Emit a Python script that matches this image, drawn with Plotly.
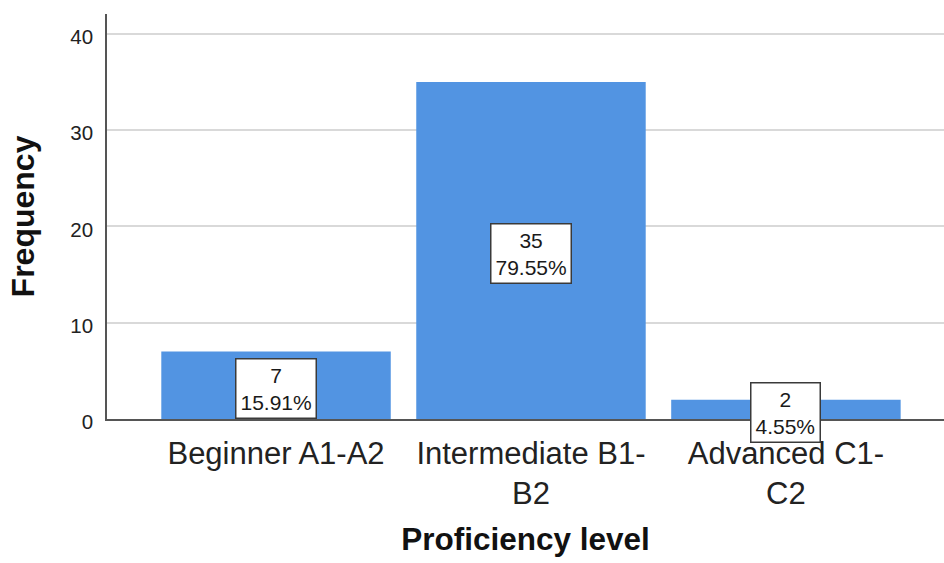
import plotly.graph_objects as go

categories = ["Beginner A1-A2", "Intermediate B1-<br>B2", "Advanced C1-<br>C2"]
frequencies = [7, 35, 2]
percent_labels = ["15.91%", "79.55%", "4.55%"]
y_ticks = [0, 10, 20, 30, 40]

BAR_COLOR = "#5294E2"
FONT = "Liberation Sans, Arial, sans-serif"

fig = go.Figure()
fig.add_trace(go.Bar(
    x=list(range(len(categories))),
    y=frequencies,
    width=0.9,
    marker=dict(color=BAR_COLOR, line=dict(width=0)),
    hoverinfo="skip",
))

for i, (v, p) in enumerate(zip(frequencies, percent_labels)):
    fig.add_annotation(
        x=i, y=v / 2, xref="x", yref="y",
        text=f"{v}<br>{p}",
        showarrow=False,
        font=dict(family=FONT, size=21, color="#1a1a1a"),
        bgcolor="white",
        bordercolor="#3a3a3a",
        borderwidth=1.5,
        borderpad=4,
        yshift=-3,
    )

fig.update_layout(
    width=944, height=563,
    margin=dict(l=107, r=0, t=14, b=144),
    plot_bgcolor="white", paper_bgcolor="white",
    showlegend=False,
    bargap=0.1,
    font=dict(family=FONT, color="#222222"),
    xaxis=dict(
        range=[-0.663, 2.62],
        tickmode="array",
        tickvals=list(range(len(categories))),
        ticktext=categories,
        tickfont=dict(size=31, color="#222222"),
        showline=True, linecolor="#555555", linewidth=1.5,
        showgrid=False, zeroline=False, ticks="",
        ticklabelstandoff=6,
        title=dict(text="<b>Proficiency level</b>", font=dict(size=31.5, color="#111111"), standoff=18),
        automargin=False,
    ),
    yaxis=dict(
        range=[0, 42.05],
        tickmode="array",
        tickvals=y_ticks,
        tickfont=dict(size=20.5, color="#222222"),
        showline=True, linecolor="#555555", linewidth=1.5,
        showgrid=True, gridcolor="#D9D9D9", gridwidth=2,
        zeroline=False, ticks="",
        ticklabelstandoff=8,
        ticklabelshift=3,
        title=dict(text="<b>Frequency</b>", font=dict(size=32, color="#111111"), standoff=26),
        automargin=False,
    ),
)

fig.write_html("out.html", config={"displayModeBar": False},
               post_script="document.body.style.margin='0';")
